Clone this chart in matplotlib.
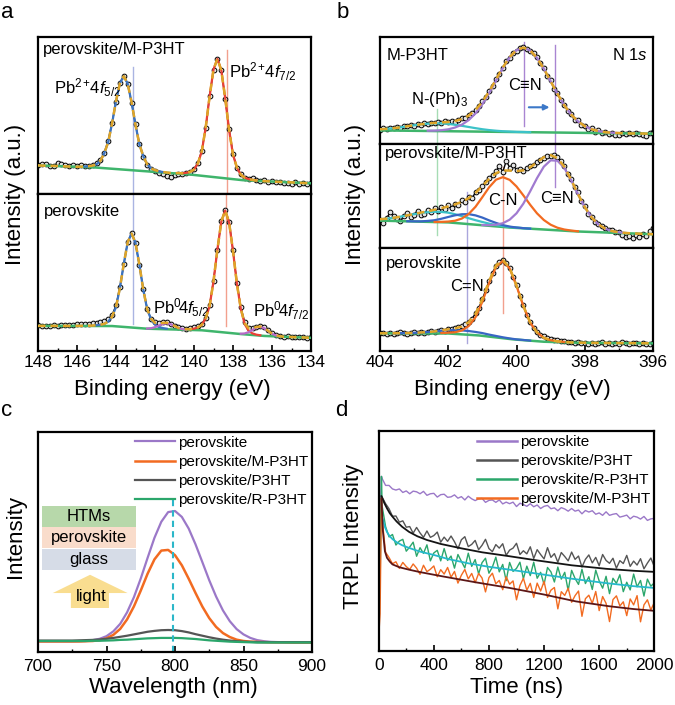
import numpy as np
import matplotlib
matplotlib.use('Agg')
import matplotlib.pyplot as plt
from matplotlib.patches import Rectangle, Polygon
from matplotlib.ticker import MultipleLocator

plt.rcParams['font.family'] = ['Liberation Sans', 'DejaVu Sans']
plt.rcParams['mathtext.fontset'] = 'custom'
plt.rcParams['mathtext.rm'] = 'Liberation Sans'
plt.rcParams['mathtext.it'] = 'Liberation Sans:italic'


def grid(start, stop, step):
    n = int(round(abs(stop - start) / step)) + 1
    return np.linspace(start, stop, n)


# ---------------- panel a : Pb 4f XPS (intensity in % of sub-panel height)
be_a = grid(148.0, 134.0, 0.2)

a_top_data = [18.4, 18.9, 19.2, 18.0, 17.6, 19.8, 19.4, 18.6, 18.0, 18.7,
              17.6, 18.2, 17.6, 18.1, 18.6, 19.6, 21.8, 26.3, 33.8, 45.5,
              58.6, 70.9, 75.3, 70.0, 58.0, 44.4, 31.9, 23.6, 18.4, 16.0,
              14.6, 13.6, 12.8, 11.2, 11.0, 12.1, 12.6, 12.9, 13.4, 14.0,
              15.7, 19.8, 27.6, 42.0, 62.5, 79.0, 86.3, 79.2, 60.6, 41.2,
              25.5, 16.4, 12.6, 10.0, 9.8, 10.4, 9.1, 8.4, 8.8, 7.6,
              8.0, 7.4, 7.9, 6.8, 7.3, 6.5, 7.5, 6.4, 6.9, 6.2, 6.8]
a_top_env = [18.2, 18.1, 18.0, 17.9, 17.9, 17.8, 17.7, 17.6, 17.5, 17.4,
             17.3, 17.4, 17.5, 17.7, 18.1, 18.9, 21.1, 26.0, 33.1, 45.1,
             59.1, 70.6, 75.0, 70.2, 58.4, 44.0, 31.6, 24.1, 18.9, 16.3,
             15.2, 14.5, 14.0, 13.7, 13.4, 13.3, 13.3, 13.2, 13.5, 14.1,
             15.5, 19.5, 27.2, 42.4, 62.1, 79.3, 86.1, 78.8, 61.0, 40.8,
             25.1, 16.8, 12.3, 10.4, 9.5, 9.0, 8.6, 8.4, 8.2, 8.1,
             7.9, 7.8, 7.7, 7.6, 7.5, 7.4, 7.3, 7.1, 7.0, 6.9, 6.8]
a_top_bg_x = [148, 145.2, 140.2, 137.5, 134]
a_top_bg = [18.2, 17.0, 12.4, 8.8, 6.8]
a_top_p52 = [17.5, 17.7, 18.1, 18.9, 21.1, 26.0, 33.1, 45.1, 59.1, 70.6, 75.0,
             70.2, 58.4, 44.0, 31.6, 24.1, 18.9, 16.3, 15.2, 14.5, 14.0]      # 145.6 -> 141.6
a_top_p72 = [13.2, 13.5, 14.1, 15.5, 19.5, 27.2, 42.4, 62.1, 79.3, 86.1,
             78.8, 61.0, 40.8, 25.1, 16.8, 12.3, 10.4, 9.5, 9.0, 8.6]         # 140.6 -> 136.8

a_bot_data = [16.3, 15.9, 16.2, 16.0, 16.4, 16.1, 16.5, 16.3, 16.7, 16.6,
              17.0, 16.9, 17.4, 17.3, 17.8, 18.0, 18.4, 19.0, 20.2, 23.0,
              29.0, 40.8, 55.2, 69.5, 75.1, 68.6, 54.5, 39.4, 27.0, 20.2,
              18.2, 17.6, 18.3, 18.4, 17.5, 16.2, 15.0, 14.5, 14.3, 14.6,
              15.0, 15.8, 17.2, 21.2, 29.3, 44.8, 64.2, 82.8, 89.6, 82.3,
              64.1, 43.4, 28.0, 18.3, 14.9, 14.6, 15.6, 16.1, 15.0, 13.1,
              11.2, 10.0, 9.6, 9.2, 9.3, 8.8, 9.0, 8.6, 8.8, 8.4, 8.6]
a_bot_env = [16.0, 16.0, 16.0, 16.0, 16.0, 16.0, 16.0, 16.0, 16.0, 16.0,
             16.0, 16.0, 16.1, 16.1, 16.2, 16.4, 16.7, 17.3, 18.7, 21.9,
             28.0, 40.1, 55.6, 69.3, 74.8, 69.0, 54.9, 39.0, 26.6, 20.5,
             17.9, 17.5, 17.9, 18.0, 17.3, 16.0, 14.7, 14.2, 13.9, 13.9,
             14.2, 15.0, 16.7, 20.8, 28.7, 44.4, 64.6, 82.4, 89.5, 81.9,
             63.7, 42.9, 27.0, 17.7, 14.5, 14.4, 15.3, 15.6, 14.6, 12.9,
             11.0, 9.9, 9.4, 9.1, 9.0, 8.9, 8.8, 8.7, 8.6, 8.5, 8.4]
a_bot_bg_x = [148, 144.2, 142.4, 139.6, 137.6, 136.4, 134]
a_bot_bg = [16.0, 15.9, 14.2, 13.2, 10.8, 9.6, 8.4]
a_bot_p52 = [16.4, 16.7, 17.3, 18.7, 21.9, 28.0, 40.1, 55.6, 69.3, 74.8,
             69.0, 54.9, 39.0, 26.5, 20.1, 16.8, 15.3, 14.6, 14.2]          # 145.0 -> 141.4
a_bot_p72 = [13.9, 14.2, 15.0, 16.7, 20.8, 28.7, 44.4, 64.6, 82.4, 89.5,
             81.9, 63.7, 42.9, 26.8, 17.1, 12.9, 11.2, 10.4, 10.0]          # 140.2 -> 136.6
a_bot_pb0_52 = [14.3, 14.5, 15.2, 16.2, 17.2, 17.6, 17.1, 15.9, 14.7, 14.0, 13.6]  # 142.4 -> 140.4
a_bot_pb0_72 = [11.0, 11.2, 12.0, 13.4, 14.9, 15.4, 14.5, 12.7, 11.0, 9.9, 9.4]    # 137.6 -> 135.6

# ---------------- panel b : N 1s XPS
be_b = grid(404.0, 396.0, 0.2)
be_b_fine = grid(404.0, 396.0, 0.1)

b_top_data = [12.5, 14.6, 13.2, 15.0, 14.1, 15.8, 15.0, 16.4, 16.0, 17.3,
              16.8, 18.2, 17.6, 18.9, 18.3, 19.6, 18.8, 20.0, 19.4, 20.8,
              19.9, 21.4, 20.6, 22.4, 23.5, 24.2, 26.8, 28.6, 31.0, 35.4,
              39.8, 43.5, 49.6, 54.2, 60.8, 65.3, 71.0, 77.2, 80.6, 85.0,
              87.2, 89.6, 90.4, 88.8, 87.0, 84.6, 81.2, 75.8, 70.9, 63.5,
              59.2, 51.6, 47.8, 40.4, 36.6, 30.2, 27.8, 21.6, 22.4, 17.2,
              16.8, 13.6, 14.2, 11.0, 12.4, 10.2, 10.8, 8.8, 9.6, 7.9,
              8.4, 9.8, 8.6, 9.9, 9.0, 10.2, 9.1, 8.4, 6.8, 9.4, 11.0]
b_top_env = [13.3, 13.8, 14.4, 15.2, 16.2, 17.1, 18.0, 18.8, 19.3, 19.8,
             20.2, 21.1, 22.9, 26.2, 31.5, 39.2, 48.9, 60.1, 71.4, 81.1,
             87.7, 90.1, 87.4, 80.4, 70.3, 58.5, 46.6, 36.0, 27.2, 20.8,
             16.3, 13.4, 11.6, 10.6, 10.1, 9.8, 9.5, 9.4, 9.4, 9.3, 9.2]
b_top_bg_x = [404, 396]
b_top_bg = [12.3, 9.2]
b_top_nph3 = [13.3, 13.8, 14.4, 15.2, 16.2, 17.1, 18.0, 18.6, 18.9, 18.9, 18.4, 17.6,
              16.6, 15.5, 14.4, 13.4, 12.6, 12.0, 11.5, 11.2, 10.9, 10.8, 10.6]   # 404.0 -> 399.6
b_top_cn3 = [12.0, 12.1, 12.5, 13.3, 15.0, 17.7, 22.0, 28.3, 36.9, 47.4,
             59.1, 70.8, 80.7, 87.6, 90.0, 87.4, 80.4, 70.3, 58.5, 46.6,
             36.0, 27.2, 20.8, 16.3, 13.4, 11.6, 10.6, 10.1, 9.8]           # 402.6 -> 397.0

b_mid_data = [27.0, 24.2, 28.6, 34.5, 30.2, 27.4, 25.8, 30.8, 33.5, 29.6,
              32.0, 35.8, 31.2, 33.0, 36.8, 34.2, 37.8, 35.6, 39.5, 37.0,
              41.2, 38.6, 42.5, 41.0, 45.6, 44.0, 48.9, 47.5, 53.6, 55.2,
              59.8, 63.0, 67.2, 69.5, 73.4, 78.6, 72.8, 83.5, 77.0, 79.8,
              74.5, 75.8, 73.6, 76.2, 78.0, 79.6, 82.3, 84.5, 86.0, 87.8,
              88.5, 88.9, 87.2, 83.6, 78.2, 70.4, 66.1, 58.8, 53.5, 44.6,
              40.2, 33.0, 30.1, 25.3, 23.4, 20.6, 19.0, 17.2, 16.8, 15.6,
              14.9, 12.0, 10.4, 11.6, 9.8, 12.2, 10.1, 13.5, 11.2, 15.8, 19.5]
b_mid_env = [27.5, 28.1, 28.9, 30.0, 31.2, 32.5, 33.9, 35.2, 36.6, 38.1,
             39.8, 41.7, 44.2, 47.7, 52.7, 59.3, 66.1, 71.6, 74.1, 74.1,
             73.6, 74.3, 77.2, 81.9, 86.9, 88.9, 86.0, 77.8, 65.4, 51.7,
             39.2, 29.3, 22.6, 18.5, 16.2, 15.0, 14.4, 13.9, 13.7, 13.4, 13.2]
b_mid_bg_x = [404, 402.0, 400.2, 398.2, 396]
b_mid_bg = [26.2, 24.5, 19.6, 15.8, 13.2]
b_mid_nph3 = [27.5, 28.1, 28.9, 30.0, 31.2, 32.4, 33.5, 34.3, 34.7, 34.5, 33.8, 32.3,
              30.5, 28.5, 26.6, 24.9, 23.3, 22.0, 21.0, 20.1, 19.5, 19.0, 18.5]   # 404.0 -> 399.6
b_mid_cn2 = [25.6, 25.5, 25.5, 25.9, 26.6, 28.0, 29.7, 31.3, 32.3, 32.4,
             31.2, 29.1, 26.4, 24.0, 21.9, 20.5, 19.6, 19.0, 18.5]          # 403.2 -> 399.6
b_mid_cn = [24.9, 25.0, 25.3, 26.1, 28.2, 32.6, 39.5, 48.7, 58.2, 65.4, 67.8,
            65.2, 58.9, 50.4, 41.4, 33.2, 26.8, 22.3, 19.4, 17.7, 16.7, 16.0]  # 402.4 -> 398.2
b_mid_cn3 = [22.0, 21.8, 22.3, 23.7, 27.1, 33.2, 42.4, 54.2, 66.8, 77.8, 83.9,
             83.5, 76.7, 64.9, 51.5, 39.2, 29.3, 22.6, 18.5, 16.2, 15.0, 14.4]  # 401.0 -> 396.8

b_bot_data = [17.6, 17.0, 16.5, 17.8, 16.9, 17.4, 18.2, 17.0, 16.6, 17.9,
              18.4, 17.2, 18.6, 17.8, 18.0, 19.1, 18.3, 19.4, 20.5, 19.6,
              21.4, 20.9, 22.6, 23.1, 24.3, 26.0, 28.6, 31.4, 36.8, 42.2,
              50.2, 59.4, 67.5, 76.2, 82.6, 86.8, 88.0, 85.4, 80.1, 72.0,
              64.2, 53.0, 44.5, 35.2, 28.3, 22.0, 18.6, 15.8, 14.2, 12.4,
              11.6, 10.2, 10.6, 9.3, 9.6, 8.4, 9.1, 8.0, 8.6, 7.4,
              8.2, 7.1, 7.8, 6.6, 7.5, 8.4, 7.0, 7.9, 6.8, 8.0,
              7.2, 8.3, 7.4, 6.9, 8.1, 7.6, 6.5, 7.8, 7.1, 6.6, 7.9]
b_bot_env = [17.2, 17.2, 17.2, 17.3, 17.4, 17.6, 18.0, 18.4, 19.0, 20.1,
             21.0, 21.9, 23.8, 28.0, 36.1, 50.6, 68.1, 83.1, 88.3, 80.7,
             63.5, 43.9, 27.7, 18.1, 12.8, 10.5, 9.4, 8.8, 8.3, 8.1,
             8.0, 7.9, 7.8, 7.8, 7.7, 7.7, 7.6, 7.6, 7.5, 7.5, 7.4]
b_bot_bg_x = [404, 402.0, 401.1, 400.1, 399.2, 398.2, 396]
b_bot_bg = [17.2, 17.0, 15.1, 11.3, 9.0, 8.0, 7.4]
b_bot_cn2 = [17.2, 17.3, 17.4, 17.6, 18.0, 18.4, 19.0, 19.7, 20.2, 20.2, 20.0,
             19.4, 18.5, 17.4, 15.9, 14.6, 13.3, 12.2, 11.3, 10.7, 10.1]    # 403.6 -> 399.6
b_bot_cn = [17.4, 17.8, 18.2, 19.9, 24.3, 32.9, 47.9, 66.2, 81.7, 87.4,
            80.2, 63.2, 43.7, 27.6, 18.1, 12.8, 10.5, 9.4, 8.8]             # 402.2 -> 398.6

# ---------------- panel c : steady-state PL
wl = grid(700, 900, 5)
pl_pero = [4.8, 4.8, 4.8, 4.8, 4.8, 4.8, 4.9, 5.0, 5.4, 6.0,
           7.2, 9.4, 12.8, 18.0, 24.9, 33.4, 42.8, 51.9, 59.2, 63.6,
           64.1, 61.4, 56.1, 48.9, 40.8, 32.6, 25.2, 18.9, 14.0, 10.4,
           8.0, 6.4, 5.4, 4.9, 4.6, 4.5, 4.4, 4.4, 4.3, 4.3, 4.3]
pl_m = [4.8, 4.8, 4.8, 4.8, 4.8, 4.8, 4.8, 4.9, 5.0, 5.4,
        6.2, 7.8, 10.5, 14.8, 20.7, 27.9, 35.6, 42.1, 46.1, 46.4,
        44.0, 39.4, 33.3, 26.8, 20.6, 15.4, 11.4, 8.6, 6.8, 5.6,
        5.0, 4.7, 4.6, 4.5, 4.4, 4.4, 4.4, 4.3, 4.3, 4.3, 4.3]
pl_p3ht = [5.2, 5.2, 5.2, 5.2, 5.2, 5.2, 5.3, 5.4, 5.5, 5.7,
           6.0, 6.4, 6.9, 7.4, 8.0, 8.6, 9.2, 9.6, 9.9, 10.0,
           9.9, 9.5, 8.9, 8.1, 7.4, 6.7, 6.1, 5.6, 5.2, 4.9,
           4.7, 4.6, 4.5, 4.5, 4.5, 4.5, 4.5, 4.5, 4.5, 4.5, 4.5]
pl_r = [5.0, 5.0, 5.0, 5.0, 5.0, 5.0, 5.0, 5.0, 5.1, 5.1,
        5.2, 5.3, 5.5, 5.6, 5.8, 6.0, 6.2, 6.3, 6.4, 6.4,
        6.4, 6.3, 6.1, 5.9, 5.6, 5.3, 5.1, 4.9, 4.7, 4.6,
        4.5, 4.4, 4.3, 4.3, 4.3, 4.3, 4.3, 4.3, 4.3, 4.3, 4.3]
pl_peak_wl = 798.4

# ---------------- panel d : TRPL (log-intensity as % of axis height)
t_ns = np.concatenate([[0, 10, 20], np.arange(25, 2001, 25)])
tr_pero = [40.0, 58.0, 79.5,
           78.5, 75.4, 75.4, 73.8, 73.3, 73.8, 72.2, 72.9, 71.6, 72.8,
           72.5, 71.6, 72.7, 70.9, 71.6, 71.8, 70.1, 71.2, 71.4, 70.0,
           70.2, 71.1, 69.6, 70.3, 68.8, 70.5, 69.3, 68.5, 69.3, 69.5,
           67.7, 68.6, 68.8, 67.7, 68.8, 67.0, 67.8, 67.1, 67.8, 65.8,
           67.3, 66.7, 65.9, 67.1, 65.7, 66.5, 64.9, 65.9, 66.3, 64.8,
           65.2, 63.9, 65.3, 64.7, 63.7, 64.9, 63.7, 64.2, 62.5, 64.0,
           63.3, 63.9, 62.3, 62.9, 61.8, 63.4, 61.8, 62.3, 62.6, 61.0,
           61.4, 61.9, 60.2, 61.4, 61.0, 60.1, 61.3, 59.5, 60.2, 60.4]
tr_p3ht = [29.0, 50.0, 70.5,
           70.1, 67.1, 64.8, 61.4, 61.5, 58.7, 59.3, 56.4, 56.7, 53.7,
           56.3, 53.8, 51.8, 54.7, 51.8, 52.6, 54.2, 49.6, 51.9, 50.0,
           52.4, 49.8, 46.6, 50.7, 52.1, 47.6, 48.6, 50.4, 46.2, 48.2,
           50.9, 46.7, 45.3, 48.5, 46.9, 48.9, 43.6, 46.0, 46.9, 49.1,
           44.0, 45.7, 44.3, 47.5, 42.2, 46.2, 44.0, 42.0, 47.1, 42.7,
           44.4, 40.5, 44.9, 43.1, 41.1, 45.1, 41.8, 43.3, 38.3, 41.8,
           43.8, 40.2, 42.7, 38.9, 44.0, 41.3, 40.0, 42.3, 37.8, 41.2,
           39.9, 43.6, 38.6, 41.0, 39.2, 42.1, 37.5, 40.1, 42.4, 38.5]
tr_r = [17.0, 29.0, 79.5,
        66.0, 56.7, 52.0, 53.1, 48.3, 50.1, 50.9, 45.5, 47.4, 49.6,
        43.2, 47.1, 44.5, 48.4, 41.1, 44.7, 45.9, 41.1, 46.7, 41.3,
        43.3, 37.8, 44.0, 40.9, 37.9, 44.6, 38.6, 41.7, 35.2, 40.3,
        42.3, 35.5, 38.3, 42.8, 36.1, 39.5, 32.1, 40.4, 36.3, 37.7,
        40.5, 33.0, 38.7, 34.4, 40.5, 33.2, 35.9, 30.4, 38.1, 36.1,
        31.5, 38.3, 32.8, 35.9, 27.6, 36.8, 33.1, 30.4, 37.3, 30.8,
        33.9, 28.1, 36.9, 32.0, 28.7, 34.1, 26.2, 33.2, 30.9, 34.8,
        27.1, 31.4, 27.9, 35.1, 29.3, 32.2, 25.1, 32.8, 29.6, 31.1]
tr_m = [6.6, 17.0, 69.5,
        60.0, 45.0, 42.6, 39.8, 40.7, 37.7, 40.4, 38.5, 37.2, 39.7,
        37.8, 35.0, 39.1, 36.2, 37.3, 38.8, 33.9, 37.1, 35.1, 38.1,
        33.7, 36.3, 31.0, 34.6, 37.2, 32.9, 35.4, 31.2, 35.4, 33.3,
        27.0, 33.5, 35.5, 30.7, 32.2, 28.0, 33.9, 30.5, 32.0, 23.4,
        29.9, 33.2, 27.8, 30.9, 24.5, 31.0, 27.4, 31.8, 24.5, 27.8,
        29.0, 19.3, 27.1, 25.4, 28.7, 22.3, 25.3, 27.4, 15.9, 23.9,
        25.5, 21.8, 27.2, 18.5, 24.9, 21.8, 13.5, 23.5, 25.2, 20.6,
        22.5, 16.2, 23.8, 21.1, 25.3, 13.4, 21.1, 23.4, 18.8, 22.2]
fit_p3ht_t = [20, 40, 60, 80, 100, 130, 170, 220, 280, 350, 450, 600, 750, 950, 1150, 1400, 1650, 1850, 2000]
fit_p3ht = [70.5, 67.5, 65.0, 62.8, 61.2, 59.0, 56.6, 54.3, 52.3, 50.6, 48.8, 46.8, 45.0, 43.2, 41.3, 39.1, 37.5, 36.6, 36.1]
fit_r_t = [30, 45, 60, 80, 100, 130, 170, 220, 300, 400, 500, 650, 800, 950, 1150, 1400, 1650, 1850, 2000]
fit_r = [60.0, 56.5, 54.2, 52.3, 51.0, 49.6, 48.2, 47.0, 45.3, 43.8, 42.0, 40.0, 38.4, 37.1, 35.3, 33.0, 31.0, 29.6, 28.8]
fit_m_t = [20, 30, 45, 60, 80, 100, 150, 220, 300, 460, 700, 950, 1200, 1430, 1670, 1850, 2000]
fit_m = [69.5, 55.0, 45.5, 42.5, 40.8, 39.5, 38.2, 37.1, 36.0, 34.1, 31.4, 28.8, 25.8, 22.7, 20.5, 19.2, 18.4]

# colours
PURPLE = '#9b78c8'
ORANGE = '#f26b21'
GRAY = '#555555'
GREEN = '#2ba66b'
BG_GREEN = '#3fb56c'
GOLD = '#dfa528'
BLUE = '#3a73c2'
RED = '#ea4136'
PB0 = '#b86ac8'
CYAN = '#3cc2c8'

W, H = 675, 705
fig = plt.figure(figsize=(W / 100, H / 100), dpi=100)


def px_axes(x0, y0, x1, y1):
    return fig.add_axes([x0 / W, 1 - y1 / H, (x1 - x0) / W, (y1 - y0) / H])


def frame(ax, xlim, major=None, minor=None, pad=3):
    ax.set_xlim(xlim)
    ax.set_ylim(0, 100)
    ax.set_yticks([])
    for sp in ax.spines.values():
        sp.set_linewidth(1.6)
    if major is None:
        ax.set_xticks([])
        return
    ax.xaxis.set_major_locator(MultipleLocator(major))
    ax.xaxis.set_minor_locator(MultipleLocator(minor))
    ax.tick_params(axis='x', which='major', direction='in', length=4, width=1.2,
                   labelsize=12.5, pad=pad)
    ax.tick_params(axis='x', which='minor', direction='in', length=2.5, width=1.0)


def draw_data(ax, x, y):
    ax.plot(x, y, color='black', lw=1.0, marker='o', ms=3.4, mfc='#e4e4e4',
            mec='black', mew=0.7, zorder=2)


def draw_env(ax, x, y):
    ax.plot(x, y, color=GOLD, lw=1.8, dashes=(3, 2), zorder=5)


def comp(ax, x0, x1, y, color):
    ax.plot(grid(x0, x1, 0.2), y, color=color, lw=1.6, zorder=3)


# ---------- a
ax_a1 = px_axes(38, 37, 311, 194)
ax_a2 = px_axes(38, 194, 311, 351)
frame(ax_a1, (148, 134))
frame(ax_a2, (148, 134), 2, 1)

ax_a1.axvline(143.13, 0, 0.81, color='#aab4e2', lw=1.0, zorder=1)
ax_a1.axvline(138.32, 0, 0.92, color='#f2a08e', lw=1.0, zorder=1)
ax_a2.axvline(143.15, 0.17, 1, color='#aab4e2', lw=1.0, zorder=1)
ax_a2.axvline(138.35, 0.16, 1, color='#f2a08e', lw=1.0, zorder=1)

draw_data(ax_a1, be_a, a_top_data)
ax_a1.plot(a_top_bg_x, a_top_bg, color=BG_GREEN, lw=1.8, zorder=3)
comp(ax_a1, 145.6, 141.6, a_top_p52, BLUE)
comp(ax_a1, 140.6, 136.8, a_top_p72, RED)
draw_env(ax_a1, be_a, a_top_env)

draw_data(ax_a2, be_a, a_bot_data)
ax_a2.plot(a_bot_bg_x, a_bot_bg, color=BG_GREEN, lw=1.8, zorder=3)
comp(ax_a2, 145.0, 141.4, a_bot_p52, BLUE)
comp(ax_a2, 140.2, 136.6, a_bot_p72, RED)
comp(ax_a2, 142.4, 140.4, a_bot_pb0_52, PB0)
comp(ax_a2, 137.6, 135.6, a_bot_pb0_72, PB0)
draw_env(ax_a2, be_a, a_bot_env)

fs_lab = 12
ax_a1.text(147.74, 92, 'perovskite/M-P3HT', fontsize=fs_lab, va='center')
ax_a1.text(147.18, 67.5, r'Pb$^{2+}\!$4$f_{5/2}$', fontsize=fs_lab, va='center')
ax_a1.text(138.21, 77.7, r'Pb$^{2+}\!$4$f_{7/2}$', fontsize=fs_lab, va='center')
ax_a2.text(147.69, 89, 'perovskite', fontsize=fs_lab, va='center')
ax_a2.text(142.11, 27.4, r'Pb$^{0}\!$4$f_{5/2}$', fontsize=fs_lab, va='center')
ax_a2.text(136.99, 25.5, r'Pb$^{0}\!$4$f_{7/2}$', fontsize=fs_lab, va='center')

# ---------- b
ax_b1 = px_axes(380, 37, 653, 143.5)
ax_b2 = px_axes(380, 143.5, 653, 248)
ax_b3 = px_axes(380, 248, 653, 351)
frame(ax_b1, (404, 396))
frame(ax_b2, (404, 396))
frame(ax_b3, (404, 396), 2, 1)

ax_b1.axvline(399.79, 0.16, 0.955, color='#a985d2', lw=1.0, zorder=1)
ax_b1.axvline(398.88, 0, 0.924, color='#a985d2', lw=1.0, zorder=1)
ax_b2.axvline(398.88, 0.587, 1, color='#a985d2', lw=1.0, zorder=1)
ax_b1.axvline(402.32, 0, 0.32, color='#a6dcb4', lw=1.0, zorder=1)
ax_b2.axvline(402.32, 0.124, 1, color='#a6dcb4', lw=1.0, zorder=1)
ax_b2.axvline(401.46, 0, 0.54, color='#aaa6dc', lw=1.0, zorder=1)
ax_b3.axvline(401.46, 0.078, 1, color='#aaa6dc', lw=1.0, zorder=1)
ax_b2.axvline(400.41, 0, 0.778, color='#f2a08e', lw=1.0, zorder=1)
ax_b3.axvline(400.41, 0.366, 1, color='#f2a08e', lw=1.0, zorder=1)

draw_data(ax_b1, be_b_fine, b_top_data)
ax_b1.plot(b_top_bg_x, b_top_bg, color=BG_GREEN, lw=1.8, zorder=3)
comp(ax_b1, 404.0, 399.6, b_top_nph3, CYAN)
comp(ax_b1, 402.6, 397.0, b_top_cn3, '#a07ad0')
draw_env(ax_b1, be_b, b_top_env)
ax_b1.annotate('', xy=(398.95, 34), xytext=(399.72, 34),
               arrowprops=dict(arrowstyle='-|>', color='#3c78c8', lw=1.5, mutation_scale=8))

draw_data(ax_b2, be_b_fine, b_mid_data)
ax_b2.plot(b_mid_bg_x, b_mid_bg, color=BG_GREEN, lw=1.8, zorder=3)
comp(ax_b2, 404.0, 399.6, b_mid_nph3, CYAN)
comp(ax_b2, 403.2, 399.6, b_mid_cn2, '#3866c4')
comp(ax_b2, 402.4, 398.2, b_mid_cn, ORANGE)
comp(ax_b2, 401.0, 396.8, b_mid_cn3, '#a07ad0')
draw_env(ax_b2, be_b, b_mid_env)

draw_data(ax_b3, be_b_fine, b_bot_data)
ax_b3.plot(b_bot_bg_x, b_bot_bg, color=BG_GREEN, lw=1.8, zorder=3)
comp(ax_b3, 403.6, 399.6, b_bot_cn2, '#3866c4')
comp(ax_b3, 402.2, 398.6, b_bot_cn, ORANGE)
draw_env(ax_b3, be_b, b_bot_env)

ax_b1.text(403.82, 82.9, 'M-P3HT', fontsize=fs_lab, va='center')
ax_b1.text(396.14, 82.9, r'N 1$s$', fontsize=fs_lab, va='center', ha='right')
ax_b1.text(403.09, 41.2, r'N-(Ph)$_3$', fontsize=fs_lab, va='center')
ax_b1.text(400.25, 54.5, 'C≡N', fontsize=fs_lab, va='center')
ax_b2.text(403.85, 90, 'perovskite/M-P3HT', fontsize=fs_lab, va='center')
ax_b2.text(400.83, 45.9, 'C-N', fontsize=fs_lab, va='center')
ax_b2.text(399.31, 47.8, 'C≡N', fontsize=fs_lab, va='center')
ax_b3.text(403.82, 85.4, 'perovskite', fontsize=fs_lab, va='center')
ax_b3.text(401.95, 63.1, 'C=N', fontsize=fs_lab, va='center')

# ---------- c
ax_c = px_axes(38, 432, 312, 652)
frame(ax_c, (700, 900), 50, 25, pad=5)
ax_c.plot(wl, pl_pero, color=PURPLE, lw=1.6, label='perovskite')
ax_c.plot(wl, pl_m, color=ORANGE, lw=1.8, label='perovskite/M-P3HT')
ax_c.plot(wl, pl_p3ht, color=GRAY, lw=1.6, label='perovskite/P3HT')
ax_c.plot(wl, pl_r, color=GREEN, lw=1.6, label='perovskite/R-P3HT')
ax_c.axvline(pl_peak_wl, 0, 0.69, color='#2bb7c9', lw=1.5, dashes=(3, 2))
ax_c.legend(loc='upper right', frameon=False, fontsize=11, handlelength=2.6,
            handletextpad=0.2, labelspacing=0.33, borderaxespad=0.05, borderpad=0.2)

# sample stack sketch
stack = [('HTMs', '#b7d8aa', 0.568), ('perovskite', '#f9dccb', 0.473), ('glass', '#d6dce7', 0.374)]
for name, col, y0 in stack:
    ax_c.add_patch(Rectangle((0.015, y0), 0.343, 0.095, transform=ax_c.transAxes,
                             facecolor=col, edgecolor='none'))
    ax_c.text(0.186, y0 + 0.047, name, transform=ax_c.transAxes, fontsize=12,
              ha='center', va='center')
arrow = [(0.12, 0.2), (0.259, 0.2), (0.259, 0.268), (0.327, 0.268), (0.19, 0.351),
         (0.054, 0.268), (0.12, 0.268)]
ax_c.add_patch(Polygon(arrow, closed=True, transform=ax_c.transAxes,
                       facecolor='#f9dd90', edgecolor='none'))
ax_c.text(0.193, 0.253, 'light', transform=ax_c.transAxes, fontsize=12,
          ha='center', va='center')

# ---------- d
ax_d = px_axes(378.7, 431.3, 654.3, 651.3)
frame(ax_d, (0, 2000), 400, 200, pad=5)
ax_d.plot(t_ns, tr_pero, color=PURPLE, lw=1.0, label='perovskite')
ax_d.plot(t_ns, tr_p3ht, color=GRAY, lw=1.0, label='perovskite/P3HT')
ax_d.plot(t_ns, tr_r, color=GREEN, lw=1.0, label='perovskite/R-P3HT')
ax_d.plot(t_ns, tr_m, color=ORANGE, lw=1.0, label='perovskite/M-P3HT')
ax_d.plot(fit_p3ht_t, fit_p3ht, color='#141414', lw=1.3)
ax_d.plot(fit_r_t, fit_r, color='#25b9cc', lw=1.3)
ax_d.plot(fit_m_t, fit_m, color='#5c1616', lw=1.3)
leg = ax_d.legend(loc='upper right', frameon=False, fontsize=11, handlelength=2.6,
                  handletextpad=0.2, labelspacing=0.33, borderaxespad=0.05, borderpad=0.2)
for ln in leg.get_lines():
    ln.set_linewidth(1.8)

# ---------- axis titles and panel letters
fs_ax = 16
fig.text(16 / W, 1 - 194 / H, 'Intensity (a.u.)', rotation=90, fontsize=fs_ax, ha='center', va='center')
fig.text(356 / W, 1 - 194 / H, 'Intensity (a.u.)', rotation=90, fontsize=fs_ax, ha='center', va='center')
fig.text(16 / W, 1 - 537 / H, 'Intensity', rotation=90, fontsize=fs_ax, ha='center', va='center')
fig.text(353 / W, 1 - 536 / H, 'TRPL Intensity', rotation=90, fontsize=fs_ax, ha='center', va='center')
fig.text(172 / W, 1 - 390 / H, 'Binding energy (eV)', fontsize=fs_ax, ha='center', va='center')
fig.text(512 / W, 1 - 390 / H, 'Binding energy (eV)', fontsize=fs_ax, ha='center', va='center')
fig.text(173 / W, 1 - 687 / H, 'Wavelength (nm)', fontsize=fs_ax, ha='center', va='center')
fig.text(517 / W, 1 - 687 / H, 'Time (ns)', fontsize=fs_ax, ha='center', va='center')

for letter, x, y in [('a', 1, 18), ('b', 337, 18), ('c', 1, 416), ('d', 335, 416)]:
    fig.text(x / W, 1 - y / H, letter, fontsize=16, ha='left', va='baseline')

fig.savefig('out.png', dpi=100)
